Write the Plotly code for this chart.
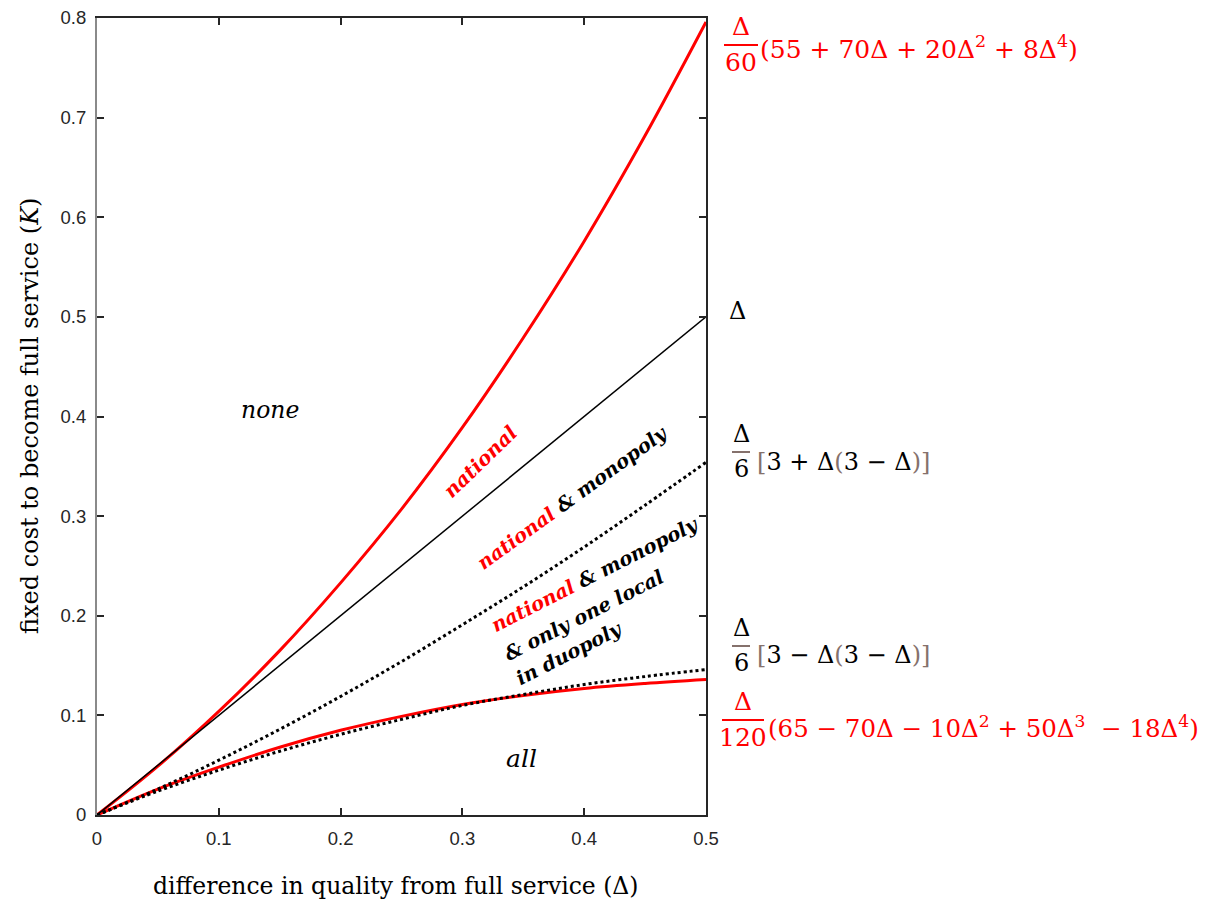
import plotly.graph_objects as go

# ---- data ----
delta = [0.0, 0.05, 0.10, 0.15, 0.20, 0.25, 0.30, 0.35, 0.40, 0.45, 0.50]
k_national_upper = [0.0, 0.049, 0.104, 0.165, 0.233, 0.307, 0.389, 0.479, 0.576, 0.682, 0.796]
k_delta_line = [0.0, 0.05, 0.10, 0.15, 0.20, 0.25, 0.30, 0.35, 0.40, 0.45, 0.50]
k_monopoly_upper = [0.0, 0.026, 0.055, 0.086, 0.119, 0.154, 0.191, 0.229, 0.269, 0.311, 0.354]
k_monopoly_lower = [0.0, 0.024, 0.045, 0.064, 0.081, 0.096, 0.110, 0.121, 0.131, 0.139, 0.146]
k_national_lower = [0.0, 0.026, 0.048, 0.068, 0.085, 0.099, 0.111, 0.120, 0.127, 0.132, 0.136]

x_ticks = [0, 0.1, 0.2, 0.3, 0.4, 0.5]
x_tick_text = ["0", "0.1", "0.2", "0.3", "0.4", "0.5"]
y_ticks = [0, 0.1, 0.2, 0.3, 0.4, 0.5, 0.6, 0.7, 0.8]
y_tick_text = ["0", "0.1", "0.2", "0.3", "0.4", "0.5", "0.6", "0.7", "0.8"]

# page body margin (8px) offsets the figure; work in page pixels
OFF = 8
W, H = 1210 - OFF, 903 - OFF
L, R, T, B = 97 - OFF, 706 - OFF, 18 - OFF, 815 - OFF
RED = "#ff0000"
DARK = "#262626"
BROWN = "#85716c"
SERIF = "DejaVu Serif"


def px(xpage):
    return (xpage - OFF - L) / (R - L)


def py(ypage):
    return (B - (ypage - OFF)) / (B - T)


fig = go.Figure()
fig.add_trace(go.Scatter(x=delta, y=k_national_upper, mode="lines",
                         line=dict(color=RED, width=3, shape="spline"), showlegend=False))
fig.add_trace(go.Scatter(x=delta, y=k_national_lower, mode="lines",
                         line=dict(color=RED, width=3, shape="spline"), showlegend=False))
fig.add_trace(go.Scatter(x=delta, y=k_delta_line, mode="lines",
                         line=dict(color="black", width=1.5), showlegend=False))
fig.add_trace(go.Scatter(x=delta, y=k_monopoly_upper, mode="lines",
                         line=dict(color="black", width=3, dash="dot", shape="spline"), showlegend=False))
fig.add_trace(go.Scatter(x=delta, y=k_monopoly_lower, mode="lines",
                         line=dict(color="black", width=3, dash="dot", shape="spline"), showlegend=False))
# invisible trace to activate right axis
fig.add_trace(go.Scatter(x=[0], y=[0], yaxis="y2", mode="markers",
                         marker=dict(opacity=0), showlegend=False, hoverinfo="skip"))

tickfont = dict(family="Liberation Sans, Arial", size=18.5, color=DARK)
fig.update_layout(
    width=W, height=H,
    margin=dict(l=L, r=W - R, t=T, b=H - B, autoexpand=False),
    paper_bgcolor="white", plot_bgcolor="white",
    xaxis=dict(range=[0, 0.5], tickvals=x_ticks, ticktext=x_tick_text, automargin=False,
               showgrid=False, zeroline=False, showline=True, linecolor=DARK, linewidth=2,
               mirror="ticks", ticks="inside", ticklen=7, tickwidth=1.5, tickcolor=DARK,
               tickfont=tickfont, ticklabelstandoff=6, ticklabeloverflow="allow"),
    yaxis=dict(range=[0, 0.8], tickvals=y_ticks, ticktext=y_tick_text, automargin=False,
               showgrid=False, zeroline=False, showline=True, linecolor="#8a8a8a", linewidth=2,
               ticks="inside", ticklen=7, tickwidth=1.5, tickcolor=DARK,
               tickfont=tickfont, ticklabelstandoff=5, ticklabeloverflow="allow"),
    yaxis2=dict(range=[0, 0.8], overlaying="y", side="right", tickvals=y_ticks, automargin=False,
                showticklabels=False, showgrid=False, zeroline=False, showline=True,
                linecolor=DARK, linewidth=2, ticks="inside", ticklen=7, tickwidth=1.5,
                tickcolor=DARK),
)

ann = []


def label(text, xpage, ypage, font, angle=0):
    ann.append(dict(text=text, x=px(xpage), y=py(ypage), xref="paper", yref="paper",
                    xanchor="center", yanchor="middle", showarrow=False,
                    textangle=angle, font=font))


# axis titles
label("difference in quality from full service (Δ)", 396, 886,
      dict(family=SERIF, size=23.5, color="black"))
label("fixed cost to become full service (<i>K</i>)", 30, 416,
      dict(family=SERIF, size=24, color="black"), -90)

# region labels
label("<i>none</i>", 270, 410, dict(family=SERIF, size=23.5, color="black"))
label("<i>all</i>", 521, 758, dict(family=SERIF, size=25, color="black"))
bold = dict(family=SERIF, size=19.5, color="black")
label("<b><i>national</i></b>", 480, 462, dict(family=SERIF, size=20, color=RED), -44)
label("<b><i><span style='color:#ff0000'>national</span> &amp; monopoly</i></b>", 573, 498, bold, -36)
block_lines = ["<b><i><span style='color:#ff0000'>national</span> &amp; monopoly</i></b>",
               "<b><i>&amp; only one local</i></b>",
               "<b><i>in duopoly</i></b>"]
block_centers = [(595, 574), (584, 615), (569, 653)]
for txt, (cx, cy) in zip(block_lines, block_centers):
    label(txt, cx, cy, bold, -27)

shapes = []


def fraction(num, den, cx, y_bar, half, color, barcolor, size):
    ann.append(dict(text=num, x=px(cx), y=py(y_bar - 2), xref="paper", yref="paper",
                    showarrow=False, yanchor="bottom", xanchor="center",
                    font=dict(family=SERIF, size=size, color=color)))
    ann.append(dict(text=den, x=px(cx), y=py(y_bar + 1), xref="paper", yref="paper",
                    showarrow=False, yanchor="top", xanchor="center",
                    font=dict(family=SERIF, size=size, color=color)))
    shapes.append(dict(type="line", xref="paper", yref="paper",
                       x0=px(cx - half), x1=px(cx + half), y0=py(y_bar), y1=py(y_bar),
                       line=dict(color=barcolor, width=2)))


def body(text, x_left, y_mid, color, size):
    ann.append(dict(text=text, x=px(x_left), y=py(y_mid), xref="paper", yref="paper",
                    showarrow=False, xanchor="left", yanchor="middle",
                    font=dict(family=SERIF, size=size, color=color)))


# formula 1
fraction("Δ", "60", 741, 45, 17, RED, RED, 25)
body("(55 + 70Δ + 20Δ<sup>2</sup> + 8Δ<sup>4</sup>)", 758, 48, RED, 25)
# formula 2
label("Δ", 737, 311, dict(family=SERIF, size=24, color="black"))
# formula 3
b = lambda s: f"<span style='color:{BROWN}'>{s}</span>"
fraction("Δ", "6", 741, 452, 9, "black", BROWN, 24)
body(b("[") + "3 + Δ" + b("(") + "3 − Δ" + b(")") + b("]"), 755, 462, "black", 24)
# formula 4
fraction("Δ", "6", 741, 646, 9, "black", BROWN, 24)
body(b("[") + "3 − Δ" + b("(") + "3 − Δ" + b(")") + b("]"), 755, 655, "black", 24)
# formula 5
fraction("Δ", "120", 743, 720, 21, RED, RED, 25)
body("(65 − 70Δ − 10Δ<sup>2</sup> + 50Δ<sup>3</sup>  − 18Δ<sup>4</sup>)", 766, 727, RED, 24.5)

fig.update_layout(annotations=ann, shapes=shapes)
fig.write_html("out.html")
